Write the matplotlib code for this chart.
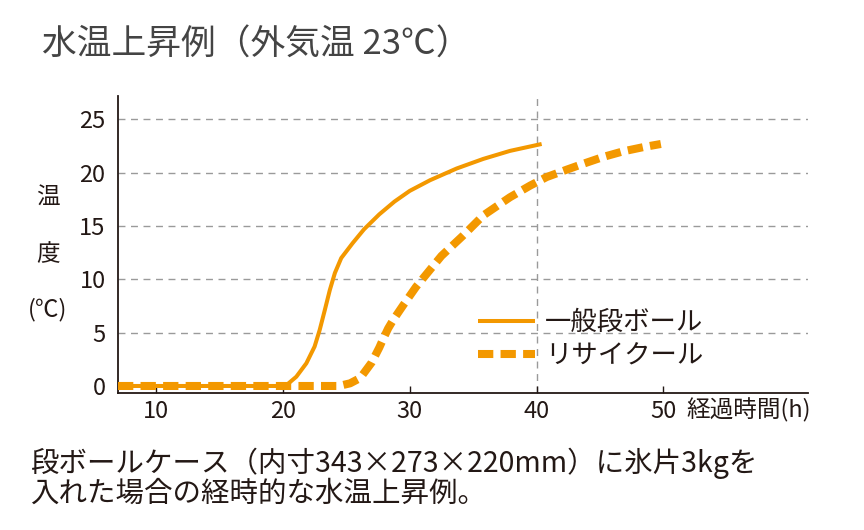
import numpy as np
import matplotlib
matplotlib.use("Agg")
from matplotlib import pyplot as plt

plt.rcParams['font.family'] = ['Noto Sans CJK JP', 'DejaVu Sans']

# 一般段ボール
hours_std = [7, 20.0, 20.3, 21.06, 21.85, 22.5, 22.9, 23.3, 23.7, 24.1, 24.6, 25.5, 26.4,
             27.6, 28.8, 30.0, 31.6, 33.7, 35.8, 37.9, 40.4]
temp_std = [0, 0, 0.1, 0.87, 2.13, 3.7, 5.25, 7.1, 9.0, 10.6, 12.0, 13.4, 14.7,
            16.1, 17.3, 18.3, 19.3, 20.4, 21.3, 22.05, 22.7]
# リサイクール
hours_rec = [7, 24.4, 25.3, 26.1, 27.0, 27.6, 27.9, 28.3, 28.7, 29.5, 30.5, 31.6, 32.5,
             34.2, 35.8, 37.9, 39.5, 40.8, 42.4, 43.7, 45.3, 46.8, 48.4, 49.8]
temp_rec = [0, 0, 0.25, 0.75, 2.2, 3.6, 4.4, 5.4, 6.2, 7.6, 9.3, 10.9, 12.2,
            14.1, 16.0, 17.7, 18.8, 19.6, 20.3, 20.85, 21.5, 22.0, 22.4, 22.7]

xticks = [10, 20, 30, 40, 50]
yticks = [0, 5, 10, 15, 20, 25]
labels = ['一般段ボール', 'リサイクール']

orange = '#f39800'
dark = '#231815'

fig = plt.figure(figsize=(8.64, 5.30), dpi=100)
ax = fig.add_axes([118/864, 1-392.7/530, (808-118)/864, (392.7-96)/530])

ax.set_xlim(7, 61.4)
ax.set_ylim(-0.63, 27.2)

for y in yticks[1:]:
    ax.axhline(y, color='#9a9a9a', lw=1.0, ls=(0, (5, 4)), zorder=1)
ax.axvline(40, color='#9a9a9a', lw=1.0, ls=(0, (5, 4)), zorder=1)

ax.plot(hours_std, temp_std, color=orange, lw=2.9, solid_capstyle='butt',
        solid_joinstyle='round', label=labels[0], zorder=4)
ax.plot(hours_rec, temp_rec, color=orange, lw=5.8, ls=(0, (1.9, 0.9)),
        dash_joinstyle='round', label=labels[1], zorder=3)

for s in ['top', 'right']:
    ax.spines[s].set_visible(False)
for s in ['left', 'bottom']:
    ax.spines[s].set_color(dark)
    ax.spines[s].set_linewidth(1.3)

ax.set_xticks(xticks)
ax.set_yticks(yticks)
ax.tick_params(axis='x', direction='in', length=5, width=1, color=dark, labelsize=17, labelcolor=dark, pad=5)
ax.tick_params(axis='y', length=0, labelsize=17, labelcolor=dark, pad=9)

fig.text(48/864, 1-198/530, '温', fontsize=17, color=dark, ha='center', va='center')
fig.text(48/864, 1-255/530, '度', fontsize=17, color=dark, ha='center', va='center')
fig.text(48/864, 1-310/530, '(℃)', fontsize=17, color=dark, ha='center', va='center')
fig.text(686/864, 1-410/530, '経過時間(h)', fontsize=17, color=dark, ha='left', va='center')

fig.text(42/864, 1-45/530, '水温上昇例（外気温 23℃）', fontsize=25, color='#444444', ha='left', va='center')

fig.text(30/864, 1-463/530, '段ボールケース（内寸343×273×220mm）に氷片3kgを', fontsize=20.5, color=dark, ha='left', va='center')
fig.text(30/864, 1-494/530, '入れた場合の経時的な水温上昇例。', fontsize=20.5, color=dark, ha='left', va='center')

leg = ax.legend(loc='upper left', bbox_to_anchor=(478/864, 1-309/530), bbox_transform=fig.transFigure,
                frameon=False, fontsize=19, handlelength=2.16, handletextpad=0.38, labelspacing=0.23,
                borderpad=0, borderaxespad=0)
for t in leg.get_texts():
    t.set_color(dark)

fig.savefig('out.png', dpi=100)
